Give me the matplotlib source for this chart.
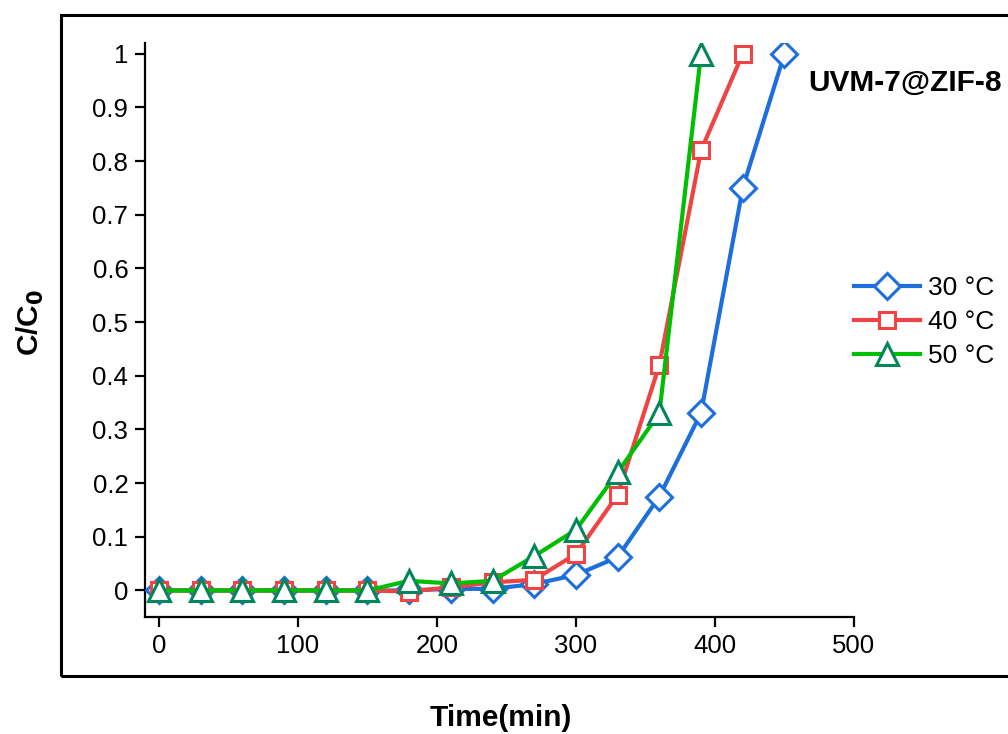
import matplotlib.pyplot as plt
from matplotlib.patches import Rectangle

plt.rcParams["font.family"] = ["Liberation Sans", "DejaVu Sans"]

time_30 = [0, 30, 60, 90, 120, 150, 180, 210, 240, 270, 300, 330, 360, 390, 420, 450]
c_30 = [0, 0, 0, 0, 0, 0, 0.0, 0.003, 0.003, 0.012, 0.029, 0.062, 0.175, 0.331, 0.75, 1.0]

time_40 = [0, 30, 60, 90, 120, 150, 180, 210, 240, 270, 300, 330, 360, 390, 420]
c_40 = [0, 0, 0, 0, 0, 0, -0.002, 0.006, 0.015, 0.02, 0.068, 0.178, 0.42, 0.82, 1.0]

time_50 = [0, 30, 60, 90, 120, 150, 180, 210, 240, 270, 300, 330, 360, 390]
c_50 = [0, 0, 0, 0, 0, 0, 0.018, 0.013, 0.018, 0.064, 0.113, 0.22, 0.33, 1.0]

labels = ["30 °C", "40 °C", "50 °C"]
xticks = [0, 100, 200, 300, 400, 500]
yticks = [0, 0.1, 0.2, 0.3, 0.4, 0.5, 0.6, 0.7, 0.8, 0.9, 1]
ytick_labels = ["0", "0.1", "0.2", "0.3", "0.4", "0.5", "0.6", "0.7", "0.8", "0.9", "1"]

BLUE = "#1c6fdc"
RED = "#ee4444"
GREEN = "#00bf00"
GREEN_EDGE = "#00865a"

fig = plt.figure(figsize=(10.08, 7.34), dpi=100)
ax = fig.add_axes([0.1438, 0.159, 0.7034, 0.7824])

# outer frame (runs off the right edge in the original)
fig.patches.append(Rectangle((61 / 1008, 1 - 676 / 734), 1.0, (676 - 15) / 734,
                             transform=fig.transFigure, fill=False, lw=2.2,
                             ec="black", clip_on=False))

kw = dict(lw=3.0, mfc="white", mew=2.2)
ax.plot(time_30, c_30, color=BLUE, marker="D", ms=13, mec=BLUE, label=labels[0], zorder=3, **kw)
ax.plot(time_40, c_40, color=RED, marker="s", ms=12, mec=RED, label=labels[1], zorder=4, **kw)
ax.plot(time_50, c_50, color=GREEN, marker="^", ms=16, mec=GREEN_EDGE, label=labels[2], zorder=5, **kw)

ax.set_xlim(-10, 500)
ax.set_ylim(-0.05, 1.02)
ax.set_xticks(xticks)
ax.set_yticks(yticks)
ax.set_yticklabels(ytick_labels)

for s in ["top", "right"]:
    ax.spines[s].set_visible(False)
for s in ["left", "bottom"]:
    ax.spines[s].set_linewidth(1.6)
ax.tick_params(direction="out", length=7, width=1.6, labelsize=18.5, pad=5)

fig.text(0.497, 1 - 718 / 734, "Time(min)", ha="center", va="center",
         fontsize=21.5, fontweight="bold")
fig.text(0.03, 1 - 322 / 734, r"C/C$_\mathbf{0}$", ha="center", va="center",
         rotation=90, fontsize=21.5, fontweight="bold")
fig.text(808 / 1008, 1 - 83 / 734, "UVM-7@ZIF-8", ha="left", va="center",
         fontsize=21.5, fontweight="bold")

ax.legend(loc="upper left", bbox_to_anchor=(841 / 1008, 1 - 263 / 734),
          bbox_transform=fig.transFigure, frameon=False, fontsize=19,
          handlelength=2.5, handletextpad=0.3, labelspacing=0.38, borderpad=0)

fig.savefig("out.png", dpi=100)
